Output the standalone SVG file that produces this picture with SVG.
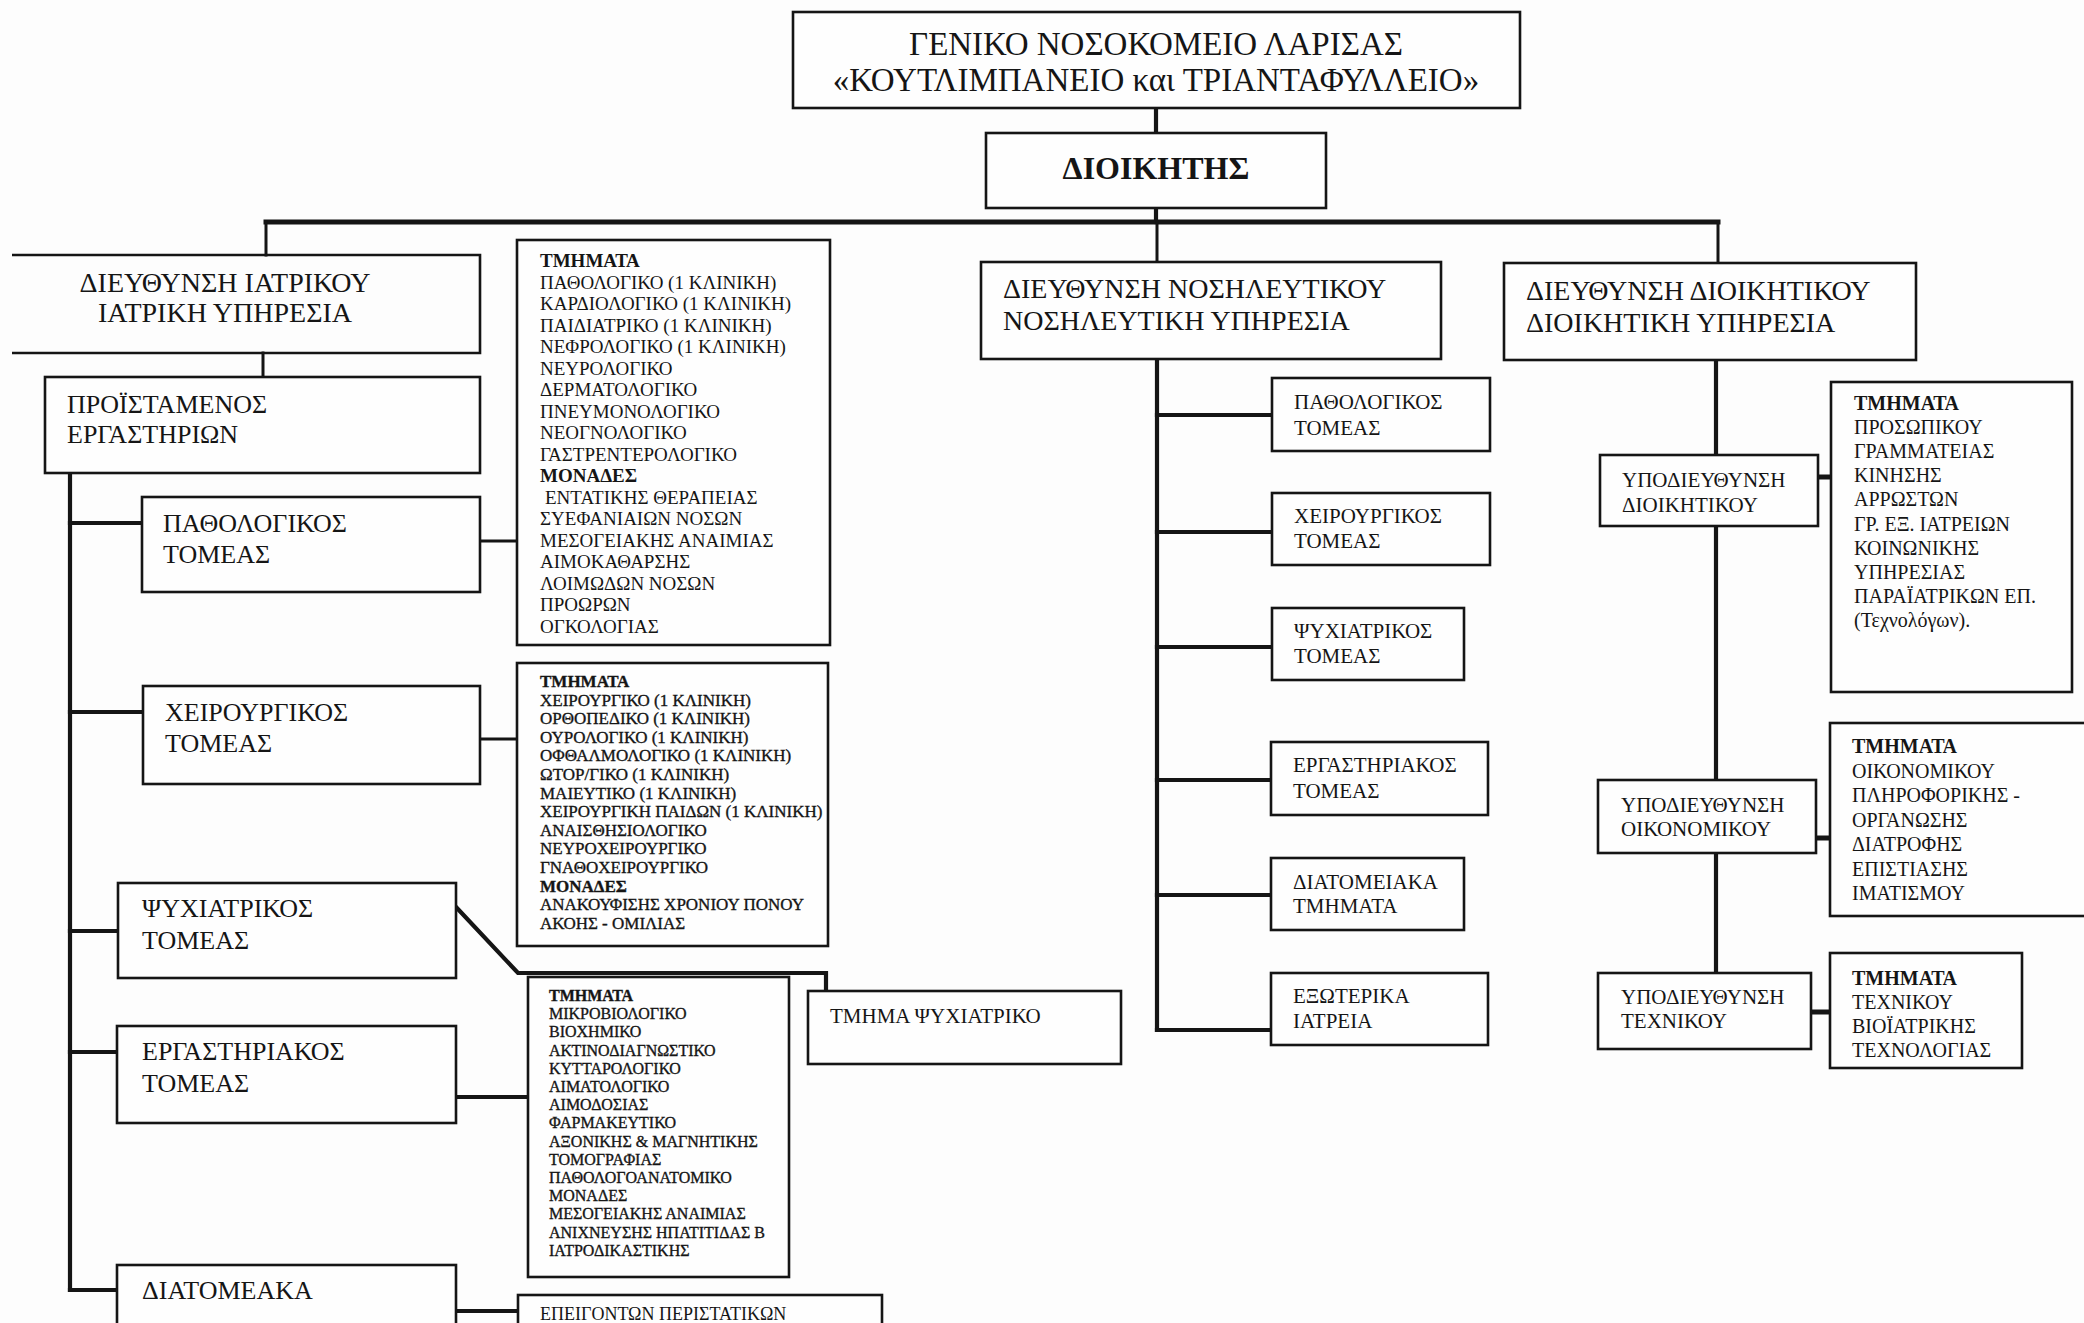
<svg xmlns="http://www.w3.org/2000/svg" width="2084" height="1323" viewBox="0 0 2084 1323">
<style>
.bg{fill:#fdfdfd}
.box{fill:#fefefe;stroke:#151515;stroke-width:2.6}
.open{fill:none;stroke:#151515;stroke-width:2.6}
.t{font-family:"Liberation Serif","Times New Roman",serif;fill:#151515}
.heavy{stroke:#151515;stroke-width:0.35}
.b{font-weight:bold}
.c{stroke:#151515;fill:none;stroke-linecap:square}
.w5{stroke-width:5}
.w4{stroke-width:4.2}
.w3{stroke-width:3}
.f33{font-size:33px}
.f32{font-size:32px}
.f28{font-size:28px}
.f26{font-size:26px}
.f21{font-size:21px}
.f20{font-size:20px}
.f19{font-size:19px}
.f18{font-size:18px}
.f17{font-size:17px}
.f16{font-size:16px}
</style>
<rect class="bg" x="0" y="0" width="2084" height="1323"/>

<g id="connectors">
  <line class="c w4" x1="1156" y1="108" x2="1156" y2="133"/>
  <line class="c w4" x1="1156" y1="208" x2="1156" y2="222"/>
  <line class="c w5" x1="266" y1="222" x2="1718" y2="222"/>
  <line class="c w3" x1="266" y1="222" x2="266" y2="255"/>
  <line class="c w3" x1="1157" y1="222" x2="1157" y2="262"/>
  <line class="c w3" x1="1718" y1="222" x2="1718" y2="263"/>
  <line class="c w3" x1="263" y1="353" x2="263" y2="377"/>
  <line class="c w4" x1="70" y1="473" x2="70" y2="1290"/>
  <line class="c w4" x1="70" y1="523" x2="142" y2="523"/>
  <line class="c w4" x1="70" y1="712" x2="143" y2="712"/>
  <line class="c w4" x1="70" y1="931" x2="118" y2="931"/>
  <line class="c w4" x1="70" y1="1052" x2="117" y2="1052"/>
  <line class="c w4" x1="70" y1="1290" x2="117" y2="1290"/>
  <line class="c w3" x1="480" y1="541" x2="517" y2="541"/>
  <line class="c w3" x1="480" y1="739" x2="517" y2="739"/>
  <polyline class="c w4" points="456,907 518,973 826,973 826,991"/>
  <line class="c w4" x1="456" y1="1097" x2="528" y2="1097"/>
  <line class="c w4" x1="456" y1="1311" x2="518" y2="1311"/>
  <line class="c w4" x1="1157" y1="359" x2="1157" y2="1030"/>
  <line class="c w4" x1="1157" y1="415" x2="1272" y2="415"/>
  <line class="c w4" x1="1157" y1="532" x2="1272" y2="532"/>
  <line class="c w4" x1="1157" y1="647" x2="1272" y2="647"/>
  <line class="c w4" x1="1157" y1="780" x2="1271" y2="780"/>
  <line class="c w4" x1="1157" y1="895" x2="1271" y2="895"/>
  <line class="c w4" x1="1157" y1="1030" x2="1271" y2="1030"/>
  <line class="c w4" x1="1716" y1="360" x2="1716" y2="455"/>
  <line class="c w4" x1="1716" y1="526" x2="1716" y2="780"/>
  <line class="c w4" x1="1716" y1="853" x2="1716" y2="973"/>
  <line class="c w5" x1="1818" y1="477" x2="1831" y2="477"/>
  <line class="c w5" x1="1816" y1="838" x2="1830" y2="838"/>
  <line class="c w5" x1="1811" y1="1012" x2="1830" y2="1012"/>
</g>

<g id="hospital">
  <rect class="box" x="793" y="12" width="727" height="96"/>
  <text class="t f33" x="1156" y="55" text-anchor="middle">ΓΕΝΙΚΟ ΝΟΣΟΚΟΜΕΙΟ ΛΑΡΙΣΑΣ</text>
  <text class="t f33" x="1156" y="91" text-anchor="middle">«ΚΟΥΤΛΙΜΠΑΝΕΙΟ και ΤΡΙΑΝΤΑΦΥΛΛΕΙΟ»</text>
</g>
<g id="director">
  <rect class="box" x="986" y="133" width="340" height="75"/>
  <text class="t f32 b" x="1156" y="179" text-anchor="middle">ΔΙΟΙΚΗΤΗΣ</text>
</g>

<g id="medical-directorate">
  <path class="open" d="M12,255 H480 V353 H12"/>
  <text class="t f28" x="225" y="292" text-anchor="middle">ΔΙΕΥΘΥΝΣΗ ΙΑΤΡΙΚΟΥ</text>
  <text class="t f28" x="225" y="322" text-anchor="middle">ΙΑΤΡΙΚΗ ΥΠΗΡΕΣΙΑ</text>
</g>
<g id="lab-head">
  <rect class="box" x="45" y="377" width="435" height="96"/>
  <text class="t f26" x="67" y="413">ΠΡΟΪΣΤΑΜΕΝΟΣ</text>
  <text class="t f26" x="67" y="443">ΕΡΓΑΣΤΗΡΙΩΝ</text>
</g>
<g id="med-pathology">
  <rect class="box" x="142" y="497" width="338" height="95"/>
  <text class="t f26" x="163" y="532">ΠΑΘΟΛΟΓΙΚΟΣ</text>
  <text class="t f26" x="163" y="563">ΤΟΜΕΑΣ</text>
</g>
<g id="med-surgery">
  <rect class="box" x="143" y="686" width="337" height="98"/>
  <text class="t f26" x="165" y="721">ΧΕΙΡΟΥΡΓΙΚΟΣ</text>
  <text class="t f26" x="165" y="752">ΤΟΜΕΑΣ</text>
</g>
<g id="med-psychiatry">
  <rect class="box" x="118" y="883" width="338" height="95"/>
  <text class="t f26" x="142" y="917">ΨΥΧΙΑΤΡΙΚΟΣ</text>
  <text class="t f26" x="142" y="949">ΤΟΜΕΑΣ</text>
</g>
<g id="med-lab">
  <rect class="box" x="117" y="1026" width="339" height="97"/>
  <text class="t f26" x="142" y="1060">ΕΡΓΑΣΤΗΡΙΑΚΟΣ</text>
  <text class="t f26" x="142" y="1092">ΤΟΜΕΑΣ</text>
</g>
<g id="med-intersector">
  <rect class="box" x="117" y="1265" width="339" height="90"/>
  <text class="t f26" x="142" y="1299">ΔΙΑΤΟΜΕΑΚΑ</text>
</g>

<g id="list-pathology">
  <rect class="box" x="517" y="240" width="313" height="405"/>
  <text class="t f19" x="540" y="267"><tspan class="b">ΤΜΗΜΑΤΑ</tspan><tspan x="540" dy="21.5">ΠΑΘΟΛΟΓΙΚΟ (1 ΚΛΙΝΙΚΗ)</tspan><tspan x="540" dy="21.5">ΚΑΡΔΙΟΛΟΓΙΚΟ  (1 ΚΛΙΝΙΚΗ)</tspan><tspan x="540" dy="21.5">ΠΑΙΔΙΑΤΡΙΚΟ (1 ΚΛΙΝΙΚΗ)</tspan><tspan x="540" dy="21.5">ΝΕΦΡΟΛΟΓΙΚΟ (1 ΚΛΙΝΙΚΗ)</tspan><tspan x="540" dy="21.5">ΝΕΥΡΟΛΟΓΙΚΟ</tspan><tspan x="540" dy="21.5">ΔΕΡΜΑΤΟΛΟΓΙΚΟ</tspan><tspan x="540" dy="21.5">ΠΝΕΥΜΟΝΟΛΟΓΙΚΟ</tspan><tspan x="540" dy="21.5">ΝΕΟΓΝΟΛΟΓΙΚΟ</tspan><tspan x="540" dy="21.5">ΓΑΣΤΡΕΝΤΕΡΟΛΟΓΙΚΟ</tspan><tspan x="540" dy="21.5" class="b">ΜΟΝΑΔΕΣ</tspan><tspan x="545" dy="21.5">ΕΝΤΑΤΙΚΗΣ ΘΕΡΑΠΕΙΑΣ</tspan><tspan x="540" dy="21.5">ΣΥΕΦΑΝΙΑΙΩΝ ΝΟΣΩΝ</tspan><tspan x="540" dy="21.5">ΜΕΣΟΓΕΙΑΚΗΣ ΑΝΑΙΜΙΑΣ</tspan><tspan x="540" dy="21.5">ΑΙΜΟΚΑΘΑΡΣΗΣ</tspan><tspan x="540" dy="21.5">ΛΟΙΜΩΔΩΝ ΝΟΣΩΝ</tspan><tspan x="540" dy="21.5">ΠΡΟΩΡΩΝ</tspan><tspan x="540" dy="21.5">ΟΓΚΟΛΟΓΙΑΣ</tspan></text>
</g>
<g id="list-surgery">
  <rect class="box" x="517" y="663" width="311" height="283"/>
  <text class="t f17 heavy" x="540" y="687"><tspan class="b">ΤΜΗΜΑΤΑ</tspan><tspan x="540" dy="18.6">ΧΕΙΡΟΥΡΓΙΚΟ  (1 ΚΛΙΝΙΚΗ)</tspan><tspan x="540" dy="18.6">ΟΡΘΟΠΕΔΙΚΟ (1 ΚΛΙΝΙΚΗ)</tspan><tspan x="540" dy="18.6">ΟΥΡΟΛΟΓΙΚΟ (1 ΚΛΙΝΙΚΗ)</tspan><tspan x="540" dy="18.6">ΟΦΘΑΛΜΟΛΟΓΙΚΟ (1 ΚΛΙΝΙΚΗ)</tspan><tspan x="540" dy="18.6">ΩΤΟΡ/ΓΙΚΟ (1 ΚΛΙΝΙΚΗ)</tspan><tspan x="540" dy="18.6">ΜΑΙΕΥΤΙΚΟ (1 ΚΛΙΝΙΚΗ)</tspan><tspan x="540" dy="18.6">ΧΕΙΡΟΥΡΓΙΚΗ ΠΑΙΔΩΝ (1 ΚΛΙΝΙΚΗ)</tspan><tspan x="540" dy="18.6">ΑΝΑΙΣΘΗΣΙΟΛΟΓΙΚΟ</tspan><tspan x="540" dy="18.6">ΝΕΥΡΟΧΕΙΡΟΥΡΓΙΚΟ</tspan><tspan x="540" dy="18.6">ΓΝΑΘΟΧΕΙΡΟΥΡΓΙΚΟ</tspan><tspan x="540" dy="18.6" class="b">ΜΟΝΑΔΕΣ</tspan><tspan x="540" dy="18.6">ΑΝΑΚΟΥΦΙΣΗΣ ΧΡΟΝΙΟΥ ΠΟΝΟΥ</tspan><tspan x="540" dy="18.6">ΑΚΟΗΣ - ΟΜΙΛΙΑΣ</tspan></text>
</g>
<g id="list-lab">
  <rect class="box" x="528" y="977" width="261" height="300"/>
  <text class="t f16 heavy" x="549" y="1001"><tspan class="b">ΤΜΗΜΑΤΑ</tspan><tspan x="549" dy="18.2">ΜΙΚΡΟΒΙΟΛΟΓΙΚΟ</tspan><tspan x="549" dy="18.2">ΒΙΟΧΗΜΙΚΟ</tspan><tspan x="549" dy="18.2">ΑΚΤΙΝΟΔΙΑΓΝΩΣΤΙΚΟ</tspan><tspan x="549" dy="18.2">ΚΥΤΤΑΡΟΛΟΓΙΚΟ</tspan><tspan x="549" dy="18.2">ΑΙΜΑΤΟΛΟΓΙΚΟ</tspan><tspan x="549" dy="18.2">ΑΙΜΟΔΟΣΙΑΣ</tspan><tspan x="549" dy="18.2">ΦΑΡΜΑΚΕΥΤΙΚΟ</tspan><tspan x="549" dy="18.2">ΑΞΟΝΙΚΗΣ &amp; ΜΑΓΝΗΤΙΚΗΣ</tspan><tspan x="549" dy="18.2">ΤΟΜΟΓΡΑΦΙΑΣ</tspan><tspan x="549" dy="18.2">ΠΑΘΟΛΟΓΟΑΝΑΤΟΜΙΚΟ</tspan><tspan x="549" dy="18.2">ΜΟΝΑΔΕΣ</tspan><tspan x="549" dy="18.2">ΜΕΣΟΓΕΙΑΚΗΣ ΑΝΑΙΜΙΑΣ</tspan><tspan x="549" dy="18.2">ΑΝΙΧΝΕΥΣΗΣ ΗΠΑΤΙΤΙΔΑΣ Β</tspan><tspan x="549" dy="18.2">ΙΑΤΡΟΔΙΚΑΣΤΙΚΗΣ</tspan></text>
</g>
<g id="list-intersector">
  <rect class="box" x="518" y="1295" width="364" height="60"/>
  <text class="t f18" x="540" y="1320">ΕΠΕΙΓΟΝΤΩΝ ΠΕΡΙΣΤΑΤΙΚΩΝ</text>
</g>
<g id="psychiatric-dept">
  <rect class="box" x="808" y="991" width="313" height="73"/>
  <text class="t f21" x="830" y="1023">ΤΜΗΜΑ ΨΥΧΙΑΤΡΙΚΟ</text>
</g>

<g id="nursing-directorate">
  <rect class="box" x="981" y="262" width="460" height="97"/>
  <text class="t f28" x="1003" y="298">ΔΙΕΥΘΥΝΣΗ ΝΟΣΗΛΕΥΤΙΚΟΥ</text>
  <text class="t f28" x="1003" y="330">ΝΟΣΗΛΕΥΤΙΚΗ ΥΠΗΡΕΣΙΑ</text>
</g>
<g id="nur-pathology">
  <rect class="box" x="1272" y="378" width="218" height="73"/>
  <text class="t f21" x="1294" y="409">ΠΑΘΟΛΟΓΙΚΟΣ</text>
  <text class="t f21" x="1294" y="435">ΤΟΜΕΑΣ</text>
</g>
<g id="nur-surgery">
  <rect class="box" x="1272" y="493" width="218" height="72"/>
  <text class="t f21" x="1294" y="523">ΧΕΙΡΟΥΡΓΙΚΟΣ</text>
  <text class="t f21" x="1294" y="548">ΤΟΜΕΑΣ</text>
</g>
<g id="nur-psychiatry">
  <rect class="box" x="1272" y="608" width="192" height="72"/>
  <text class="t f21" x="1294" y="638">ΨΥΧΙΑΤΡΙΚΟΣ</text>
  <text class="t f21" x="1294" y="663">ΤΟΜΕΑΣ</text>
</g>
<g id="nur-lab">
  <rect class="box" x="1271" y="742" width="217" height="73"/>
  <text class="t f21" x="1293" y="772">ΕΡΓΑΣΤΗΡΙΑΚΟΣ</text>
  <text class="t f21" x="1293" y="798">ΤΟΜΕΑΣ</text>
</g>
<g id="nur-intersector">
  <rect class="box" x="1271" y="858" width="193" height="72"/>
  <text class="t f21" x="1293" y="889">ΔΙΑΤΟΜΕΙΑΚΑ</text>
  <text class="t f21" x="1293" y="913">ΤΜΗΜΑΤΑ</text>
</g>
<g id="nur-outpatient">
  <rect class="box" x="1271" y="973" width="217" height="72"/>
  <text class="t f21" x="1293" y="1003">ΕΞΩΤΕΡΙΚΑ</text>
  <text class="t f21" x="1293" y="1028">ΙΑΤΡΕΙΑ</text>
</g>

<g id="admin-directorate">
  <rect class="box" x="1504" y="263" width="412" height="97"/>
  <text class="t f28" x="1526" y="300">ΔΙΕΥΘΥΝΣΗ ΔΙΟΙΚΗΤΙΚΟΥ</text>
  <text class="t f28" x="1526" y="332">ΔΙΟΙΚΗΤΙΚΗ ΥΠΗΡΕΣΙΑ</text>
</g>
<g id="sub-admin">
  <rect class="box" x="1600" y="455" width="218" height="71"/>
  <text class="t f21" x="1622" y="487">ΥΠΟΔΙΕΥΘΥΝΣΗ</text>
  <text class="t f21" x="1622" y="512">ΔΙΟΙΚΗΤΙΚΟΥ</text>
</g>
<g id="list-admin">
  <rect class="box" x="1831" y="382" width="241" height="310"/>
  <text class="t f20" x="1854" y="410"><tspan class="b">ΤΜΗΜΑΤΑ</tspan><tspan x="1854" dy="24.1">ΠΡΟΣΩΠΙΚΟΥ</tspan><tspan x="1854" dy="24.1">ΓΡΑΜΜΑΤΕΙΑΣ</tspan><tspan x="1854" dy="24.1">ΚΙΝΗΣΗΣ</tspan><tspan x="1854" dy="24.1">ΑΡΡΩΣΤΩΝ</tspan><tspan x="1854" dy="24.1">ΓΡ. ΕΞ. ΙΑΤΡΕΙΩΝ</tspan><tspan x="1854" dy="24.1">ΚΟΙΝΩΝΙΚΗΣ</tspan><tspan x="1854" dy="24.1">ΥΠΗΡΕΣΙΑΣ</tspan><tspan x="1854" dy="24.1">ΠΑΡΑΪΑΤΡΙΚΩΝ ΕΠ.</tspan><tspan x="1854" dy="24.1">(Τεχνολόγων).</tspan></text>
</g>
<g id="sub-finance">
  <rect class="box" x="1598" y="780" width="218" height="73"/>
  <text class="t f21" x="1621" y="812">ΥΠΟΔΙΕΥΘΥΝΣΗ</text>
  <text class="t f21" x="1621" y="836">ΟΙΚΟΝΟΜΙΚΟΥ</text>
</g>
<g id="list-finance">
  <rect class="box" x="1830" y="723" width="270" height="193"/>
  <text class="t f20" x="1852" y="753"><tspan class="b">ΤΜΗΜΑΤΑ</tspan><tspan x="1852" dy="24.5">ΟΙΚΟΝΟΜΙΚΟΥ</tspan><tspan x="1852" dy="24.5">ΠΛΗΡΟΦΟΡΙΚΗΣ -</tspan><tspan x="1852" dy="24.5">ΟΡΓΑΝΩΣΗΣ</tspan><tspan x="1852" dy="24.5">ΔΙΑΤΡΟΦΗΣ</tspan><tspan x="1852" dy="24.5">ΕΠΙΣΤΙΑΣΗΣ</tspan><tspan x="1852" dy="24.5">ΙΜΑΤΙΣΜΟΥ</tspan></text>
</g>
<g id="sub-technical">
  <rect class="box" x="1598" y="973" width="213" height="76"/>
  <text class="t f21" x="1621" y="1004">ΥΠΟΔΙΕΥΘΥΝΣΗ</text>
  <text class="t f21" x="1621" y="1028">ΤΕΧΝΙΚΟΥ</text>
</g>
<g id="list-technical">
  <rect class="box" x="1830" y="953" width="192" height="115"/>
  <text class="t f20" x="1852" y="985"><tspan class="b">ΤΜΗΜΑΤΑ</tspan><tspan x="1852" dy="24">ΤΕΧΝΙΚΟΥ</tspan><tspan x="1852" dy="24">ΒΙΟΪΑΤΡΙΚΗΣ</tspan><tspan x="1852" dy="24">ΤΕΧΝΟΛΟΓΙΑΣ</tspan></text>
</g>
</svg>
